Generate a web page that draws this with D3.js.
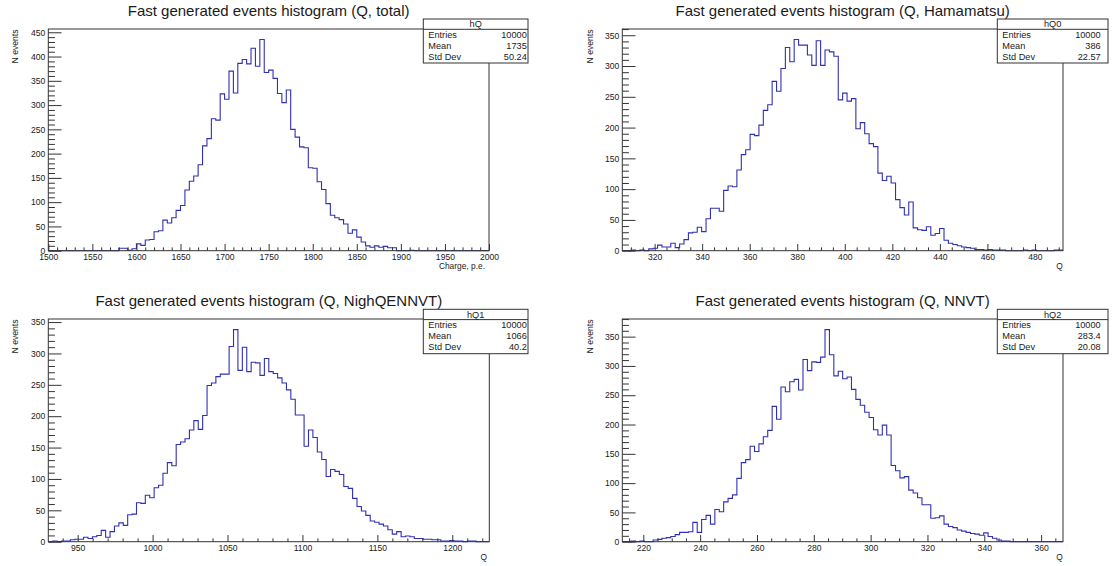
<!DOCTYPE html>
<html><head><meta charset="utf-8">
<script src="https://cdn.jsdelivr.net/npm/d3@7"></script>
<style>
body{margin:0;background:#fff}
svg{display:block;font-family:"Liberation Sans",Arial,Helvetica,sans-serif}
</style>
</head><body>
<svg id="c" width="1117" height="566"></svg>
<script>
// ---------- data ----------
const histNames = ["hQ", "hQ0", "hQ1", "hQ2"];
const histTitles = [
  "Fast generated events histogram (Q, total)",
  "Fast generated events histogram (Q, Hamamatsu)",
  "Fast generated events histogram (Q, NighQENNVT)",
  "Fast generated events histogram (Q, NNVT)"
];
const xAxisTitles = ["Charge, p.e.", "Q", "Q", "Q"];
const yAxisTitle = "N events";
const statLabels = ["Entries", "Mean", "Std Dev"];
const entries = ["10000", "10000", "10000", "10000"];
const means = ["1735", "386", "1066", "283.4"];
const stdDevs = ["50.24", "22.57", "40.2", "20.08"];
const xRanges = [[1500, 2000], [306.4, 491.8], [930.4, 1224.7], [212.6, 367.7]];
const xMajorSteps = [50, 20, 50, 20];
const xMinorSteps = [10, 5, 10, 5];
const yMajorStep = 50;
const yMinorStep = 10;

const countsTotal = [
  0,0,0,0,0,0,0,0,0,0, 0,0,0,0,0,0,5,5,1,4,
  14,11,22,23,39,41,63,57,68,83, 93,125,143,154,177,216,231,272,269,323,
  312,370,325,386,394,385,417,380,435,367, 372,355,324,305,331,250,234,214,212,171,
  170,142,126,97,73,68,64,55,36,43, 28,18,10,7,10,7,9,6,6,0,
  0,0,1,0,0,0,0,0,0,0, 0,0,0,0,0,0,0,0,0,0
];
const countsHamamatsu = [
  0,0,1,0,1,0,3,4,9,6, 6,12,5,11,18,29,30,38,31,52,
  69,69,64,98,105,104,131,156,164,189, 187,204,228,237,275,259,296,330,307,343,
  334,334,318,301,341,301,326,323,316,245, 256,243,247,198,208,190,174,169,126,114,
  121,110,83,70,58,79,37,34,33,39, 25,28,36,17,12,10,8,6,5,4,
  2,2,1,2,1,1,1,0,0,0, 0,1,0,1,0,0,0,0,1,1
];
const countsNighQENNVT = [
  0,1,0,1,1,3,4,4,7,5, 8,10,18,7,16,25,30,26,43,44,
  62,61,74,70,86,90,109,126,121,155, 159,164,178,193,179,201,249,253,263,267,
  267,311,338,273,310,271,286,285,265,292, 271,268,261,253,242,227,202,202,152,178,
  166,143,131,104,115,112,107,88,85,69, 56,49,42,33,31,28,25,19,12,16,
  8,9,8,5,5,4,4,3,3,1, 1,2,1,1,0,1,1,0,0,0
];
const countsNNVT = [
  0,0,1,0,1,0,0,3,4,6, 7,9,12,16,16,17,33,16,38,45,
  30,55,51,68,74,80,108,135,140,163, 154,167,179,190,231,209,264,256,273,277,
  259,311,292,307,306,315,362,319,283,291, 278,281,260,243,233,221,212,191,182,199,
  182,130,121,109,111,88,83,75,63,63, 40,41,44,30,26,24,20,18,16,14,
  13,11,15,9,6,3,1,1,0,0, 0,0,0,0,0,0,0,0,0,0
];
const allCounts = [countsTotal, countsHamamatsu, countsNighQENNVT, countsNNVT];

// ---------- layout ----------
const frames = [
  {l: 48.3, r: 489.0, t: 29, b: 250.7},
  {l: 622.3, r: 1063.0, t: 29, b: 250.7},
  {l: 48.3, r: 489.3, t: 319, b: 541.7},
  {l: 622.3, r: 1063.0, t: 319, b: 541.7}
];
const statBoxes = [
  {l: 423.3, r: 528, t: 19, b: 63, vr: 526.8},
  {l: 997.3, r: 1108, t: 19, b: 63, vr: 1100.7},
  {l: 423.3, r: 528, t: 309.3, b: 353.7, vr: 526.8},
  {l: 997.3, r: 1108, t: 309.3, b: 353.7, vr: 1100.7}
];
const axisTitleEnds = [485, 1062.7, 487, 1062.7];
const yTitleX = [17.5, 592.5, 17.5, 592.5];

const svg = d3.select("#c");
const lineColor = "#3030b4";
const frameColor = "#333";
const textColor = "#1a1a1a";

function ticksFor(lo, hi, step) {
  const out = [];
  const start = Math.ceil(lo / step - 1e-9) * step;
  for (let v = start; v <= hi + 1e-9; v += step) out.push(+v.toFixed(6));
  return out;
}

frames.forEach((f, p) => {
  const counts = allCounts[p];
  const [xmin, xmax] = xRanges[p];
  const n = counts.length;
  const bw = (xmax - xmin) / n;
  const ymax = 1.05 * d3.max(counts);
  const x = d3.scaleLinear().domain([xmin, xmax]).range([f.l, f.r]);
  const y = d3.scaleLinear().domain([0, ymax]).range([f.b, f.t]);
  const g = svg.append("g");

  // histogram outline
  const pts = [];
  counts.forEach((c, i) => {
    pts.push([xmin + i * bw, c]);
    pts.push([xmin + (i + 1) * bw, c]);
  });
  g.append("path")
    .attr("d", d3.line().x(d => x(d[0])).y(d => y(d[1]))(pts))
    .attr("fill", "none").attr("stroke", lineColor).attr("stroke-width", 1.1);

  // frame
  g.append("rect").attr("x", f.l).attr("y", f.t)
    .attr("width", f.r - f.l).attr("height", f.b - f.t)
    .attr("fill", "none").attr("stroke", frameColor).attr("stroke-width", 1);

  const fw = f.r - f.l, fh = f.b - f.t;
  // y axis
  const yMaj = ticksFor(0, ymax, yMajorStep);
  const yMin = ticksFor(0, ymax, yMinorStep).filter(v => v % yMajorStep !== 0);
  const yAxMinor = d3.axisLeft(y).tickValues(yMin).tickSizeInner(-0.015 * fw).tickSizeOuter(0).tickFormat("");
  const yAxMajor = d3.axisLeft(y).tickValues(yMaj).tickSizeInner(-0.03 * fw).tickSizeOuter(0).tickPadding(3).tickFormat(d3.format("d"));
  [yAxMinor, yAxMajor].forEach(ax => {
    const a = g.append("g").attr("transform", `translate(${f.l},0)`).call(ax);
    a.select(".domain").remove();
    a.selectAll("line").attr("stroke", frameColor);
    a.selectAll("text").attr("fill", textColor).style("font-size", "8.6px")
      .style("font-family", '"Liberation Sans",Arial,sans-serif');
  });

  // x axis
  const xMaj = ticksFor(xmin, xmax, xMajorSteps[p]);
  const xMin = ticksFor(xmin, xmax, xMinorSteps[p]).filter(v => Math.abs(v / xMajorSteps[p] - Math.round(v / xMajorSteps[p])) > 1e-6);
  const xAxMinor = d3.axisBottom(x).tickValues(xMin).tickSizeInner(-0.015 * fh).tickSizeOuter(0).tickFormat("");
  const xAxMajor = d3.axisBottom(x).tickValues(xMaj).tickSizeInner(-0.03 * fh).tickSizeOuter(0).tickPadding(3.3).tickFormat(d3.format("d"));
  [xAxMinor, xAxMajor].forEach(ax => {
    const a = g.append("g").attr("transform", `translate(0,${f.b})`).call(ax);
    a.select(".domain").remove();
    a.selectAll("line").attr("stroke", frameColor);
    a.selectAll("text").attr("fill", textColor).style("font-size", "8.6px")
      .style("font-family", '"Liberation Sans",Arial,sans-serif');
  });

  // axis titles
  g.append("text").attr("x", axisTitleEnds[p]).attr("y", f.b + 18.5)
    .attr("text-anchor", "end").attr("fill", textColor).style("font-size", "8.4px")
    .text(xAxisTitles[p]);
  g.append("text").attr("transform", `translate(${yTitleX[p]},${f.t + 0.5}) rotate(-90)`)
    .attr("text-anchor", "end").attr("fill", textColor).style("font-size", "8.6px")
    .text(yAxisTitle);

  // title
  g.append("text").attr("x", (f.l + f.r) / 2).attr("y", f.t - 13)
    .attr("text-anchor", "middle").attr("fill", textColor).style("font-size", "15px")
    .text(histTitles[p]);

  // stats box
  const s = statBoxes[p];
  const sg = g.append("g");
  sg.append("rect").attr("x", s.l).attr("y", s.t).attr("width", s.r - s.l).attr("height", s.b - s.t)
    .attr("fill", "#fff").attr("stroke", frameColor).attr("stroke-width", 1);
  sg.append("line").attr("x1", s.l).attr("x2", s.r).attr("y1", s.t + 10.3).attr("y2", s.t + 10.3)
    .attr("stroke", frameColor).attr("stroke-width", 1);
  sg.append("text").attr("x", (s.l + s.r) / 2).attr("y", s.t + 8.2).attr("text-anchor", "middle")
    .attr("fill", textColor).style("font-size", "9.2px").text(histNames[p]);
  const vals = [entries[p], means[p], stdDevs[p]];
  statLabels.forEach((lab, i) => {
    const by = s.t + 18.7 + i * 11.2;
    sg.append("text").attr("x", s.l + 5).attr("y", by).attr("fill", textColor)
      .style("font-size", "9.2px").text(lab);
    sg.append("text").attr("x", s.vr).attr("y", by).attr("text-anchor", "end").attr("fill", textColor)
      .style("font-size", "9.2px").text(vals[i]);
  });
});
</script>
</body></html>
